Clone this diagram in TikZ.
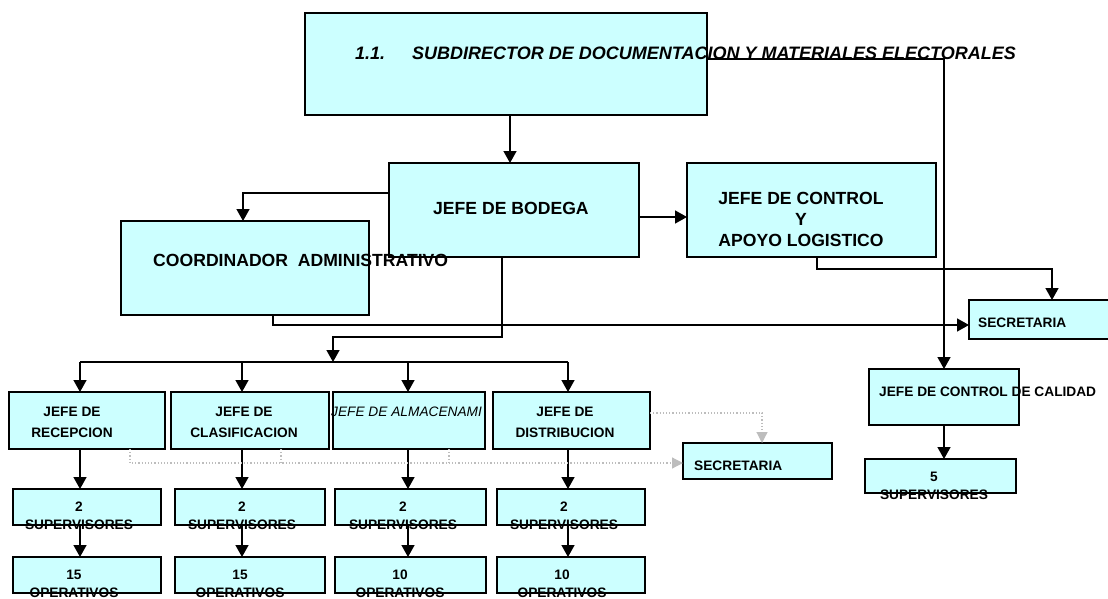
\documentclass[tikz,border=0pt]{standalone}
\usepackage{fontspec}
\setmainfont{Liberation Sans}
\usetikzlibrary{arrows.meta,calc}
\definecolor{boxfill}{HTML}{CCFFFF}
\definecolor{dotgray}{HTML}{BDBDBD}
\begin{document}
\begin{tikzpicture}[x=1pt,y=-1pt,
  box/.style={draw, line width=1.5pt, fill=boxfill, inner sep=0pt, outer sep=0pt, anchor=center},
  arr/.style={line width=1.5pt, -{Triangle[length=12pt,width=13pt]}},
  plain/.style={line width=1.5pt},
  dotarr/.style={draw=dotgray, line width=1.2pt, dotted, -{Triangle[length=11pt,width=11pt,fill=dotgray]}},
  dotline/.style={draw=dotgray, line width=1.2pt, dotted},
  big/.style={font=\fontsize{17.6}{21}\selectfont\bfseries, inner sep=0pt},
  huge/.style={font=\fontsize{18}{22}\selectfont\bfseries\itshape, inner sep=0pt},
  sm/.style={font=\fontsize{13.7}{21}\selectfont\bfseries, inner sep=0pt, align=center},
  smtwo/.style={font=\fontsize{13.7}{18}\selectfont\bfseries, inner sep=0pt, align=center},
  smit/.style={font=\fontsize{13.7}{18}\selectfont\itshape, inner sep=0pt}
]
\useasboundingbox (0,0) rectangle (1108,599);
\clip (0,0) rectangle (1108,599);

% boxes
\node[box, minimum width=402pt, minimum height=102pt] (top) at (506,64) {};
\node[box, minimum width=250pt, minimum height=94pt] (bod) at (514,210) {};
\node[box, minimum width=248pt, minimum height=94pt] (coord) at (245,268) {};
\node[box, minimum width=249pt, minimum height=94pt] (ctrl) at (811.5,210) {};
\node[box, minimum width=141pt, minimum height=39pt] (sec1) at (1039.5,319.5) {};
\node[box, minimum width=150pt, minimum height=56pt] (cal) at (944,397) {};
\node[box, minimum width=151pt, minimum height=34pt] (sup5) at (940.5,476) {};
\node[box, minimum width=156pt, minimum height=57pt] (rec) at (87,420.5) {};
\node[box, minimum width=158pt, minimum height=57pt] (cla) at (250,420.5) {};
\node[box, minimum width=152pt, minimum height=57pt] (alm) at (409,420.5) {};
\node[box, minimum width=157pt, minimum height=57pt] (dis) at (571.5,420.5) {};
\node[box, minimum width=149pt, minimum height=36pt] (sec2) at (757.5,461) {};
\node[box, minimum width=148pt, minimum height=36pt] (s1) at (87,507) {};
\node[box, minimum width=150pt, minimum height=36pt] (s2) at (250,507) {};
\node[box, minimum width=151pt, minimum height=36pt] (s3) at (410.5,507) {};
\node[box, minimum width=148pt, minimum height=36pt] (s4) at (571,507) {};
\node[box, minimum width=148pt, minimum height=36pt] (o1) at (87,575) {};
\node[box, minimum width=150pt, minimum height=36pt] (o2) at (250,575) {};
\node[box, minimum width=151pt, minimum height=36pt] (o3) at (410.5,575) {};
\node[box, minimum width=148pt, minimum height=36pt] (o4) at (571,575) {};

% coordinates for column connectors
\coordinate (c1) at (80,0);
\coordinate (c2) at (242,0);
\coordinate (c3) at (408,0);
\coordinate (c4) at (568,0);
\coordinate (bus) at (333,362);
\coordinate (k1) at (333,337);
\coordinate (d1) at (130,463);
\coordinate (d2) at (281,0);
\coordinate (d3) at (449,0);

% solid connectors
\draw[arr] ([xshift=4pt]top.south) -- ([xshift=-4pt]bod.north);
\draw[arr] ([yshift=17pt]bod.west) -| ([xshift=-2pt]coord.north);
\draw[arr] ([yshift=-7pt]bod.east) -- ([yshift=-7pt]ctrl.west);
\draw[arr] ([xshift=5.5pt]ctrl.south) -- ++(0,12) -| ([xshift=12.5pt]sec1.north);
\draw[arr] ([xshift=28pt]coord.south) |- ([yshift=-5.5pt]sec1.west);
\draw[arr] ([yshift=5pt]top.east) -| (cal.north);
\draw[arr] (cal.south) -- (cal.south |- sup5.north);
\draw[arr] ([xshift=-12pt]bod.south) |- (k1) -- (bus);
\draw[plain] (bus -| c1) -- (bus -| c4);
\foreach \c/\a/\b/\d in {c1/rec/s1/o1, c2/cla/s2/o2, c3/alm/s3/o3, c4/dis/s4/o4}{
  \draw[arr] (bus -| \c) -- (\a.north -| \c);
  \draw[arr] (\a.south -| \c) -- (\b.north -| \c);
  \draw[arr] (\b.south -| \c) -- (\d.north -| \c);
}

% dotted connectors
\draw[dotarr] (rec.south -| d1) -- (d1) -- (d1 -| sec2.west);
\draw[dotline] (cla.south -| d2) -- (d1 -| d2);
\draw[dotline] (alm.south -| d3) -- (d1 -| d3);
\draw[dotarr] ([yshift=7.5pt]dis.east) -| ([xshift=4.5pt]sec2.north);

% texts
\node[huge, anchor=west] (ttop) at (355,53) {1.1.\hspace{27pt}SUBDIRECTOR DE DOCUMENTACION Y MATERIALES ELECTORALES};
\node[big, anchor=west] (tbod) at (433,208) {JEFE DE BODEGA};
\node[big, anchor=west] (tcoord) at (153,260) {COORDINADOR\ \ ADMINISTRATIVO};
\node[big, align=center] (tctrl) at (801,219) {JEFE DE CONTROL\\Y\\APOYO LOGISTICO};
\node[smtwo, anchor=west] (tsec1) at (978,323) {SECRETARIA};
\node[smtwo, anchor=west] (tcal) at (879,392) {JEFE DE CONTROL DE CALIDAD};
\node[smtwo] (tsup5) at (934,486) {5\\SUPERVISORES};
\node[smtwo, anchor=west] (tsec2) at (694,466) {SECRETARIA};
\node[sm] (trec) at (72,422.5) {JEFE DE\\RECEPCION};
\node[sm] (tcla) at (244,422.5) {JEFE DE\\CLASIFICACION};
\node[smit, anchor=west] (talm) at (331,412) {JEFE DE ALMACENAMI};
\node[sm] (tdis) at (565,422.5) {JEFE DE\\DISTRIBUCION};
\node[smtwo] (ts1) at (79,516) {2\\SUPERVISORES};
\node[smtwo] (ts2) at (242,516) {2\\SUPERVISORES};
\node[smtwo] (ts3) at (403,516) {2\\SUPERVISORES};
\node[smtwo] (ts4) at (564,516) {2\\SUPERVISORES};
\node[smtwo] (to1) at (74,584) {15\\OPERATIVOS};
\node[smtwo] (to2) at (240,584) {15\\OPERATIVOS};
\node[smtwo] (to3) at (400,584) {10\\OPERATIVOS};
\node[smtwo] (to4) at (562,584) {10\\OPERATIVOS};
\end{tikzpicture}
\end{document}
